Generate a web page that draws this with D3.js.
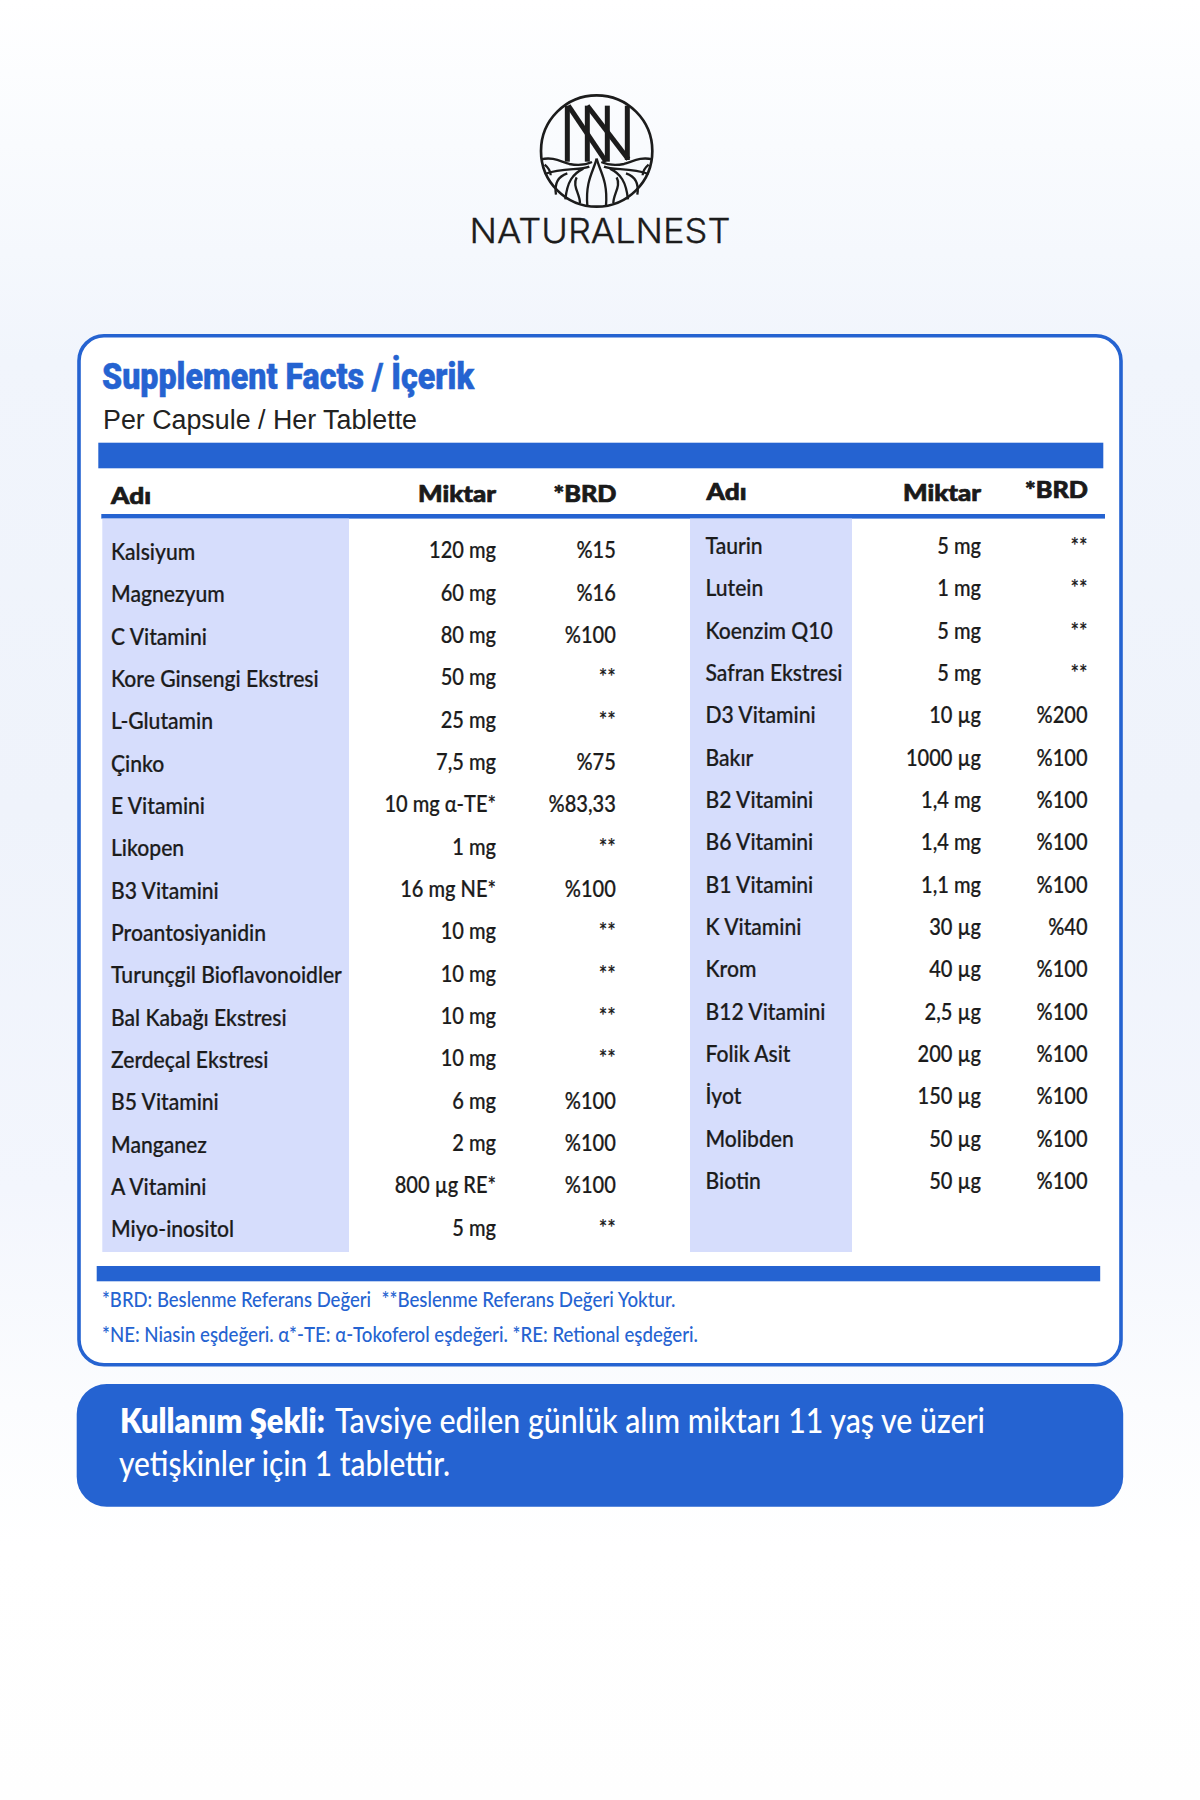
<!DOCTYPE html>
<html lang="tr"><head><meta charset="utf-8">
<script src="https://cdn.jsdelivr.net/npm/d3@7/dist/d3.min.js"></script>
<style>
html,body{margin:0;padding:0;width:1200px;height:1800px;overflow:hidden}
svg{display:block}
text{font-family:Lato,"Noto Sans",sans-serif}
</style></head><body><svg id="c" width="1200" height="1800"></svg>
<script>
const leftNames=["Kalsiyum","Magnezyum","C Vitamini","Kore Ginsengi Ekstresi","L-Glutamin","Çinko","E Vitamini","Likopen","B3 Vitamini","Proantosiyanidin","Turunçgil Bioflavonoidler","Bal Kabağı Ekstresi","Zerdeçal Ekstresi","B5 Vitamini","Manganez","A Vitamini","Miyo-inositol"];
const leftAmounts=["120 mg","60 mg","80 mg","50 mg","25 mg","7,5 mg","10 mg α-TE*","1 mg","16 mg NE*","10 mg","10 mg","10 mg","10 mg","6 mg","2 mg","800 µg RE*","5 mg"];
const leftBrd=["%15","%16","%100","**","**","%75","%83,33","**","%100","**","**","**","**","%100","%100","%100","**"];
const rightNames=["Taurin","Lutein","Koenzim Q10","Safran Ekstresi","D3 Vitamini","Bakır","B2 Vitamini","B6 Vitamini","B1 Vitamini","K Vitamini","Krom","B12 Vitamini","Folik Asit","İyot","Molibden","Biotin"];
const rightAmounts=["5 mg","1 mg","5 mg","5 mg","10 µg","1000 µg","1,4 mg","1,4 mg","1,1 mg","30 µg","40 µg","2,5 µg","200 µg","150 µg","50 µg","50 µg"];
const rightBrd=["**","**","**","**","%200","%100","%100","%100","%100","%40","%100","%100","%100","%100","%100","%100"];
const headers=["Adı","Miktar","*BRD"];

const BLUE="#2563d1",SHADE="#d6ddfc",INK="#1b1b1b";
const svg=d3.select("#c");
const defs=svg.append("defs");
const bg=defs.append("linearGradient").attr("id","bg").attr("x1",0).attr("y1",0).attr("x2",0).attr("y2",1);
[[0,"#ffffff"],[.08,"#f9fbfe"],[.2,"#f1f5fc"],[.45,"#eff3fb"],[.66,"#f3f6fd"],[.78,"#fbfcfe"],[.86,"#ffffff"],[1,"#fefefe"]]
 .forEach(s=>bg.append("stop").attr("offset",s[0]).attr("stop-color",s[1]));
svg.append("rect").attr("width",1200).attr("height",1800).attr("fill","url(#bg)");

function txt(g,s,x,y,o){
  o=o||{};
  const t=g.append("text").attr("x",x).attr("y",y).text(s)
    .attr("font-size",o.size||23).attr("font-weight",o.weight||500).attr("fill",o.fill||INK)
    .attr("text-anchor",o.anchor||"start");
  if(o.family)t.style("font-family",o.family);
  if(o.len)t.attr("textLength",o.len).attr("lengthAdjust","spacingAndGlyphs");
  if(o.stroke)t.attr("stroke",o.fill||INK).attr("stroke-width",o.stroke);
  return t;
}

// logo
const logo=svg.append("g").attr("transform","translate(530,90) scale(0.3333)").attr("fill","none").attr("stroke","#1c1c1c");
logo.append("circle").attr("cx",200).attr("cy",183).attr("r",167).attr("stroke-width",8);
[[112,47,112,215],[172,47,172,215],[232,47,232,215],[292,47,292,210],[115,47,228,215],[172,47,295,208]]
 .forEach(l=>logo.append("line").attr("x1",l[0]).attr("y1",l[1]).attr("x2",l[2]).attr("y2",l[3]).attr("stroke-width",15));
const root=["M33 208C70 200 90 214 118 222C140 226 165 226 186 216","M200 206C190 245 166 272 172 347","M178 230C150 242 100 232 44 252","M160 236C128 252 112 274 106 328","M112 250C88 258 72 278 78 314","M140 262C126 288 150 312 150 340","M44 224C56 234 62 244 62 256"];
[1,-1].forEach(s=>{
  const g=logo.append("g").attr("transform",s<0?"translate(400,0) scale(-1,1)":null);
  root.forEach(d=>g.append("path").attr("d",d).attr("stroke-width",7));
});
txt(svg,"NATURALNEST",469.5,243,{size:34.5,weight:300,family:"Inter",fill:"#1c1c1c",len:261,stroke:.35});

// card
svg.append("rect").attr("x",79).attr("y",335.8).attr("width",1042).attr("height",1029).attr("rx",25).attr("fill","#fff").attr("stroke",BLUE).attr("stroke-width",3.6);
txt(svg,"Supplement Facts / İçerik",102,389,{size:37,weight:900,fill:BLUE,family:"Roboto",len:372,stroke:.5});
txt(svg,"Per Capsule / Her Tablette",103,429,{size:27,weight:400,family:"Liberation Sans",fill:"#222",len:314});
svg.append("rect").attr("x",98.3).attr("y",442.7).attr("width",1005).attr("height",25.6).attr("fill",BLUE);
svg.append("rect").attr("x",101.3).attr("y",514).attr("width",1003.7).attr("height",4.6).attr("fill",BLUE);
svg.append("rect").attr("x",96.7).attr("y",1266).attr("width",1003.5).attr("height",15.3).attr("fill",BLUE);
svg.append("rect").attr("x",102.3).attr("y",518.6).attr("width",246.7).attr("height",733.4).attr("fill",SHADE);
svg.append("rect").attr("x",690).attr("y",518.6).attr("width",162).attr("height",733.4).attr("fill",SHADE);

// headers
const hw=[40,78,63];
[[111,503.5,496,501.5,616.5,501.5],[706.5,499.5,981,500.5,1088,497.8]].forEach(h=>{
  const o={size:23.5,weight:900,fill:"#1a1a1a",family:"Lato",stroke:.7};
  txt(svg,headers[0],h[0],h[1],{...o,len:hw[0]});
  txt(svg,headers[1],h[2]-hw[1],h[3],{...o,len:hw[1]});
  txt(svg,headers[2],h[4]-hw[2],h[5],{...o,len:hw[2]});
});

// rows
const yL=d3.scalePoint().domain(d3.range(leftNames.length)).range([560,1237.4]);
const yR=d3.scalePoint().domain(d3.range(rightNames.length)).range([554,1189]);
const probe=txt(svg,"Turunçgil Bioflavonoidler",0,-50,{size:23.5,weight:500});
const sx=231/probe.node().getComputedTextLength();probe.remove();
const sv=sx*0.95;
function col(data,x,y,dy,anchor,s){
  svg.append("g").selectAll("text").data(data).join("text")
   .attr("transform",(d,i)=>`translate(${x},${y(i)+dy}) scale(${s},1)`)
   .attr("text-anchor",anchor).attr("font-size",23.5).attr("font-weight",500).attr("fill",INK)
   .attr("stroke",INK).attr("stroke-width",.25).text(d=>d);
}
col(leftNames,111,yL,0,"start",sx);col(leftAmounts,496,yL,-1.6,"end",sv);col(leftBrd,615.8,yL,-1.6,"end",sv);
col(rightNames,705.5,yR,0,"start",sx);col(rightAmounts,981,yR,0,"end",sv);col(rightBrd,1087.6,yR,0,"end",sv);

// notes
const nf={size:21,weight:500,fill:BLUE};
txt(svg,"*BRD: Beslenme Referans Değeri",102,1307.3,{...nf,len:269});
txt(svg,"**Beslenme Referans Değeri Yoktur.",381.5,1307.3,{...nf,len:294});
txt(svg,"*NE: Niasin eşdeğeri. α*-TE: α-Tokoferol eşdeğeri. *RE: Retional eşdeğeri.",102,1341.7,{...nf,len:596});

// usage box
svg.append("rect").attr("x",76.7).attr("y",1384).attr("width",1046.5).attr("height",122.7).attr("rx",30).attr("fill",BLUE);
const uf={size:34.5,fill:"#fff"};
txt(svg,"Kullanım Şekli:",120,1432.7,{...uf,weight:800,len:205});
txt(svg,"Tavsiye edilen günlük alım miktarı 11 yaş ve üzeri",335,1432.7,{...uf,weight:500,len:650});
txt(svg,"yetişkinler için 1 tablettir.",119,1475.7,{...uf,weight:500,len:331});
</script></body></html>
